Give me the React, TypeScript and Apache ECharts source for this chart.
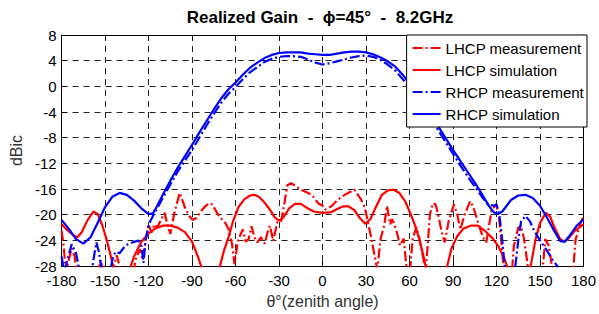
import React, { useEffect, useRef } from "react";
import * as echarts from "echarts";

const FONT = '"Liberation Sans", Arial, sans-serif';

const xTicks = [-180, -150, -120, -90, -60, -30, 0, 30, 60, 90, 120, 150, 180];
const yTicks = [8, 4, 0, -4, -8, -12, -16, -20, -24, -28];

const seriesNames = ["LHCP measurement", "LHCP simulation", "RHCP measurement", "RHCP simulation"];

// LHCP measurement (values below -28 are clipped nulls)
const lhcpMeasDeg = [-180, -178.5, -177, -175, -173, -171, -169, -160, -155, -153, -151, -147, -144, -142, -140, -138, -132, -129, -126, -124, -122, -120, -118, -116, -114, -111.5, -109, -107, -105, -102, -98.5, -95, -92, -89.5, -87, -83, -80, -77, -74, -71.5, -67, -64.7, -62.5, -60.7, -59, -58, -55, -53, -51, -49, -47, -45, -42.5, -39.8, -38, -36.4, -35, -34, -32.5, -31, -28.5, -26.5, -24.3, -21.6, -18, -15, -11, -7.4, -3, 0, 2, 6, 10.8, 16, 22, 26.5, 29, 31, 33.5, 36, 37.8, 40, 42.5, 44.5, 46.6, 48, 50, 51.8, 53.4, 56, 58, 60, 62, 64.7, 66.8, 69.5, 71, 72.5, 74, 76.2, 78, 80, 82, 84.3, 87, 90.6, 93, 95, 98, 101.8, 104, 107, 110.6, 113, 115, 116.6, 120, 122, 124, 126, 130, 132, 135, 137, 139, 141, 143, 151, 153.6, 156, 158.6, 160, 172, 174.6, 178, 180];
const lhcpMeasDb = [-22.5, -25, -29, -27, -25.2, -26.5, -30, -31, -29, -27, -29.5, -31, -28, -26.3, -28, -31, -31, -27, -25.4, -27, -24, -21.5, -22.8, -21.5, -22, -20.8, -19.7, -21.5, -23, -19.5, -16.6, -18.8, -20.2, -20.8, -20.5, -19.2, -18.5, -18.2, -19.2, -20.2, -21.3, -22.3, -24.5, -27.7, -25, -23.8, -22.3, -24.2, -23.8, -21.8, -23.5, -24.3, -23.5, -24.5, -22.8, -21.7, -23, -24.1, -22.5, -21, -21, -18.5, -15.4, -15.1, -15.6, -16.1, -16.5, -16.9, -18.2, -18.6, -19.2, -18.7, -17.6, -16.8, -16.1, -17.6, -18.8, -20.8, -23.5, -26.5, -28.5, -23.8, -21.7, -18.6, -21.5, -20.7, -21.8, -23.2, -24.8, -23.7, -28.5, -30, -24, -21.9, -23.8, -26.8, -29, -25, -20, -18.2, -18.4, -20.2, -22.5, -24.3, -21, -18.4, -20, -22.3, -20, -17.9, -18.8, -21, -23.5, -24.3, -21.5, -19.2, -18.4, -21, -26, -31, -31, -24.8, -22, -21.7, -23.8, -27, -31, -31, -23.8, -24.8, -28.5, -31, -31, -23.8, -21.3, -20.2];

// LHCP simulation
const lhcpSimDeg = [-180, -176, -172, -169, -166, -162, -158, -155, -152, -149, -146, -144, -142, -136, -133, -130, -125, -120, -115, -110, -105, -100, -95, -90, -86, -83, -80, -74, -71, -68, -65, -62, -58, -54, -50, -47, -44, -40, -36, -33, -30, -27, -23, -19, -15, -11, -6, 0, 6, 10, 14, 18, 22, 26, 29.5, 33, 37, 41, 45, 49, 53, 57, 61, 64, 67, 70, 72, 74, 83, 86, 89, 93, 97, 102, 107, 112, 117, 121, 125, 129, 132, 141, 144, 147, 150, 154, 157, 160, 164, 167, 170, 174, 180];
const lhcpSimDb = [-21.5, -22.4, -23.2, -23.5, -22.7, -20.8, -19.5, -19.9, -21.6, -23.8, -26.5, -28.5, -31, -31, -28.5, -26.5, -24.2, -22.9, -22.1, -21.7, -21.7, -22.0, -22.7, -24.2, -26.5, -28.5, -31, -31, -28.2, -25.6, -23.6, -21.2, -18.8, -17.6, -17.0, -16.9, -17.2, -18.1, -19.3, -20.4, -20.9, -20.4, -19.0, -18.3, -18.3, -18.9, -19.5, -19.7, -19.6, -19.1, -18.7, -18.7, -19.3, -20.6, -21.4, -20.7, -18.7, -16.9, -16.2, -16.1, -16.6, -17.9, -20.0, -21.8, -24.0, -26.8, -29, -31, -31, -28, -25.2, -23.3, -22.2, -21.7, -21.7, -22.5, -23.6, -24.8, -26.6, -29, -31, -31, -27.5, -23.8, -21.3, -19.7, -20.3, -22.0, -23.8, -24.2, -23.6, -22.5, -21.5];

// RHCP measurement
const rhcpMeasDeg = [-180, -178, -176, -173, -170, -167, -160, -158, -156, -154, -152, -147, -145, -143, -140, -136, -131, -127, -125, -123.5, -122, -119.5, -117, -114, -110, -105, -100, -95, -90, -85, -80, -75, -70, -65, -60, -55, -50, -45, -40, -35, -30, -25, -20, -15, -10, -5, 0, 5, 10, 15, 20, 25, 30, 35, 40, 45, 50, 55, 60, 65, 70, 75, 80, 85, 90, 95, 100, 105, 110, 114, 118, 120, 122, 124, 126, 130, 133, 135, 137, 140, 143, 146, 150, 154, 158, 162, 166, 175, 180];
const rhcpMeasDb = [-26.5, -29, -27, -24.6, -26, -29.5, -30, -27, -24.3, -26, -29.5, -30, -27, -25.8, -26, -24.8, -24.3, -24, -24.8, -27.5, -23.8, -21.3, -20.2, -19, -17.3, -15.3, -13.3, -11.6, -9.9, -8, -6.1, -4.3, -2.6, -1.2, -0.1, 1.1, 2.2, 3.0, 3.8, 4.3, 4.6, 4.7, 4.7, 4.6, 4.2, 3.7, 3.4, 3.6, 3.9, 4.2, 4.5, 4.7, 4.8, 4.6, 4.1, 3.4, 2.5, 1.2, -0.2, -1.9, -3.6, -5.3, -6.9, -8.7, -10.5, -12.3, -14.0, -15.6, -17.2, -18.4, -18.6, -18.4, -20, -24, -29, -31, -28, -24, -21, -20.2, -21, -22.5, -24, -25.3, -26.8, -28, -31, -31, -31];

// RHCP simulation
const rhcpSimDeg = [-180, -175, -170, -165, -160, -155, -150, -145, -140, -135, -130, -125, -120, -117, -114, -110, -105, -100, -95, -90, -85, -80, -75, -70, -65, -60, -55, -50, -45, -40, -35, -30, -25, -20, -15, -10, -5, 0, 5, 10, 15, 20, 25, 30, 35, 40, 45, 50, 55, 60, 65, 70, 75, 80, 85, 90, 95, 100, 105, 110, 115, 118, 121, 124, 127, 130, 135, 140, 145, 150, 155, 160, 164, 167, 170, 175, 180];
const rhcpSimDb = [-20.8, -22.2, -23.8, -24.5, -23.5, -21.2, -18.8, -17.2, -16.6, -16.9, -17.8, -19.0, -19.9, -19.8, -18.6, -16.8, -14.7, -12.7, -10.9, -9.1, -7.2, -5.4, -3.6, -1.9, -0.5, 0.6, 1.8, 2.9, 3.7, 4.4, 4.9, 5.2, 5.3, 5.3, 5.3, 5.1, 5.0, 4.9, 4.9, 5.1, 5.3, 5.4, 5.4, 5.3, 5.0, 4.5, 3.9, 3.1, 1.9, 0.4, -1.3, -3.1, -4.7, -6.3, -8.1, -9.9, -11.6, -13.3, -15.0, -16.8, -18.7, -19.6, -19.9, -19.5, -18.6, -17.7, -17.0, -16.9, -17.4, -18.6, -20.5, -22.6, -24.1, -24.2, -23.4, -21.8, -20.7];

const pair = (xs: number[], ys: number[]) => xs.map((x, i) => [x, ys[i]]);

const DASHDOT = [10, 3, 2, 3];

export default function App() {
  const ref = useRef<HTMLDivElement>(null);
  useEffect(() => {
    if (!ref.current) return;
    const chart = echarts.init(ref.current, undefined, { renderer: "svg" });
    const axisCommon = {
      type: "value" as const,
      axisLine: { show: true, onZero: false, lineStyle: { color: "#000", width: 1 } },
      axisTick: { show: true, inside: true, length: 5, lineStyle: { color: "#000" } },
    };
    const mk = (name: string, data: number[][], color: string, dashed: boolean) => ({
      name,
      type: "line",
      data,
      symbol: "none",
      showSymbol: false,
      clip: true,
      smooth: false,
      lineStyle: { color, width: 2.2, type: dashed ? DASHDOT : "solid" },
      itemStyle: { color, opacity: 0 },
      z: 3,
    });
    chart.setOption({
      animation: false,
      backgroundColor: "#fff",
      textStyle: { fontFamily: FONT },
      grid: { left: 52, right: 12, top: 35, bottom: 45, containLabel: false },
      graphic: [
        {
          type: "text",
          x: 320,
          y: 17,
          style: {
            text: "Realized Gain  -  ϕ=45°  -  8.2GHz",
            font: `bold 17px ${FONT}`,
            fill: "#000",
            align: "center",
            verticalAlign: "middle",
          },
        },
      ],
      legend: {
        orient: "vertical",
        right: 12,
        top: 35,
        padding: [5, 3, 5, 5],
        itemGap: 6,
        itemWidth: 28,
        itemHeight: 16,
        backgroundColor: "#fff",
        borderColor: "#000",
        borderWidth: 1,
        borderRadius: 0,
        itemStyle: { opacity: 0 },
        textStyle: { fontSize: 15, color: "#000", fontFamily: FONT, lineHeight: 16 },
        data: seriesNames,
      },
      xAxis: [
        {
          ...axisCommon,
          min: -180,
          max: 180,
          interval: 30,
          position: "bottom",
          name: "θ°(zenith angle)",
          nameLocation: "middle",
          nameGap: 24,
          nameTextStyle: { fontSize: 16, color: "#333", fontFamily: FONT },
          axisLabel: {
            fontSize: 15,
            color: "#000",
            margin: 7,
            fontFamily: FONT,
            formatter: (v: number) => (xTicks.includes(v) ? String(v) : ""),
          },
          splitLine: { show: true, lineStyle: { color: "#222", width: 1, type: [6, 5] } },
        },
        {
          ...axisCommon,
          min: -180,
          max: 180,
          interval: 30,
          position: "top",
          axisLabel: { show: false },
          splitLine: { show: false },
        },
      ],
      yAxis: [
        {
          ...axisCommon,
          min: -28,
          max: 8,
          interval: 4,
          position: "left",
          name: "dBic",
          nameLocation: "middle",
          nameGap: 28,
          nameTextStyle: { fontSize: 16, color: "#333", fontFamily: FONT },
          axisLabel: {
            fontSize: 15,
            color: "#000",
            margin: 5,
            fontFamily: FONT,
            formatter: (v: number) => (yTicks.includes(v) ? String(v) : ""),
          },
          splitLine: { show: true, lineStyle: { color: "#222", width: 1, type: [6, 5] } },
        },
        {
          ...axisCommon,
          min: -28,
          max: 8,
          interval: 4,
          position: "right",
          axisLabel: { show: false },
          splitLine: { show: false },
        },
      ],
      series: [
        mk(seriesNames[0], pair(lhcpMeasDeg, lhcpMeasDb), "#ff0000", true),
        mk(seriesNames[1], pair(lhcpSimDeg, lhcpSimDb), "#ff0000", false),
        mk(seriesNames[2], pair(rhcpMeasDeg, rhcpMeasDb), "#0000ff", true),
        mk(seriesNames[3], pair(rhcpSimDeg, rhcpSimDb), "#0000ff", false),
      ],
    });
    return () => chart.dispose();
  }, []);
  return (
    <div
      ref={ref}
      style={{ position: "fixed", left: 0, top: 0, width: 599, height: 314, background: "#fff" }}
    />
  );
}
